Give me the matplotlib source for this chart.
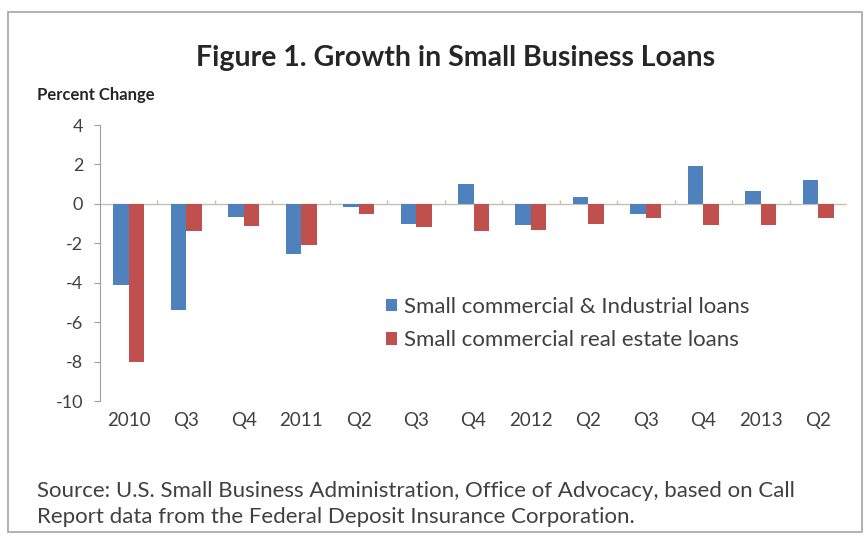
import matplotlib
matplotlib.use("Agg")
import matplotlib.pyplot as plt
from matplotlib.patches import Rectangle
import numpy as np

categories = ["2010", "Q3", "Q4", "2011", "Q2", "Q3", "Q4", "2012", "Q2", "Q3", "Q4", "2013", "Q2"]
ci_loans = [-4.1, -5.4, -0.65, -2.55, -0.15, -1.0, 1.0, -1.05, 0.35, -0.5, 1.9, 0.65, 1.2]
cre_loans = [-8.0, -1.4, -1.1, -2.1, -0.5, -1.15, -1.4, -1.35, -1.0, -0.7, -1.05, -1.05, -0.7]
y_ticks = [4, 2, 0, -2, -4, -6, -8, -10]

BLUE = "#4F81BD"
RED = "#C0504D"
TEXT = "#404040"
FONT = "Lato"

W, H = 868, 542
fig = plt.figure(figsize=(W / 100, H / 100), dpi=100)
fig.patch.set_facecolor("white")

# outer frame of the figure panel
fig.patches.append(Rectangle((8 / W, 10 / H), 854 / W, 520 / H, transform=fig.transFigure,
                             fill=False, edgecolor="#A6A6A6", linewidth=1.2))

ax_left, ax_bottom, ax_w, ax_h = 100, 141, 747, 276
ax = fig.add_axes([ax_left / W, ax_bottom / H, ax_w / W, ax_h / H])
x = np.arange(len(categories))
bw = 0.27
ax.bar(x - bw / 2, ci_loans, width=bw, color=BLUE, label="Small commercial & Industrial loans")
ax.bar(x + bw / 2, cre_loans, width=bw, color=RED, label="Small commercial real estate loans")

ax.set_xlim(-0.5, len(categories) - 0.5)
ax.set_ylim(-10, 4)
ax.set_yticks(y_ticks)
ax.set_yticklabels([str(v) for v in y_ticks], fontsize=13, color=TEXT, family=FONT)
ax.tick_params(axis="y", length=4, color="#A0A0A0", pad=8)

ax.set_xticks(x)
ax.set_xticklabels(categories, fontsize=13.5, color=TEXT, family=FONT)
ax.tick_params(axis="x", length=0, pad=8)

for s in ["top", "right", "bottom"]:
    ax.spines[s].set_visible(False)
ax.spines["left"].set_color("#A0A0A0")

# category axis drawn along zero with small boundary ticks
ax.axhline(0, color="#C8C0B0", linewidth=1.0, zorder=0)
ax.vlines(np.arange(len(categories) - 1) + 0.5, 0, 0.18, color="#C8C0B0", linewidth=1.0, zorder=0)

ax.legend(loc="upper left", bbox_to_anchor=((386 - ax_left) / ax_w, (401 - 297) / ax_h),
          frameon=False, borderaxespad=0, borderpad=0,
          prop={"family": FONT, "size": 16}, labelcolor=TEXT,
          handlelength=0.5, handleheight=0.5, handletextpad=0.3, labelspacing=0.6)

fig.text(456 / W, 1 - 58 / H, "Figure 1. Growth in Small Business Loans", ha="center", va="center",
         fontsize=20.5, fontweight="bold", color="#262626", family=FONT)
fig.text(37 / W, 1 - 95 / H, "Percent Change", ha="left", va="center",
         fontsize=12, fontweight="bold", color="#262626", family=FONT)
fig.text(37 / W, 1 - 504 / H,
         "Source: U.S. Small Business Administration, Office of Advocacy, based on Call\n"
         "Report data from the Federal Deposit Insurance Corporation.",
         ha="left", va="center", fontsize=16, color=TEXT, family=FONT, linespacing=1.4)

fig.savefig("out.png", dpi=100, facecolor="white")
